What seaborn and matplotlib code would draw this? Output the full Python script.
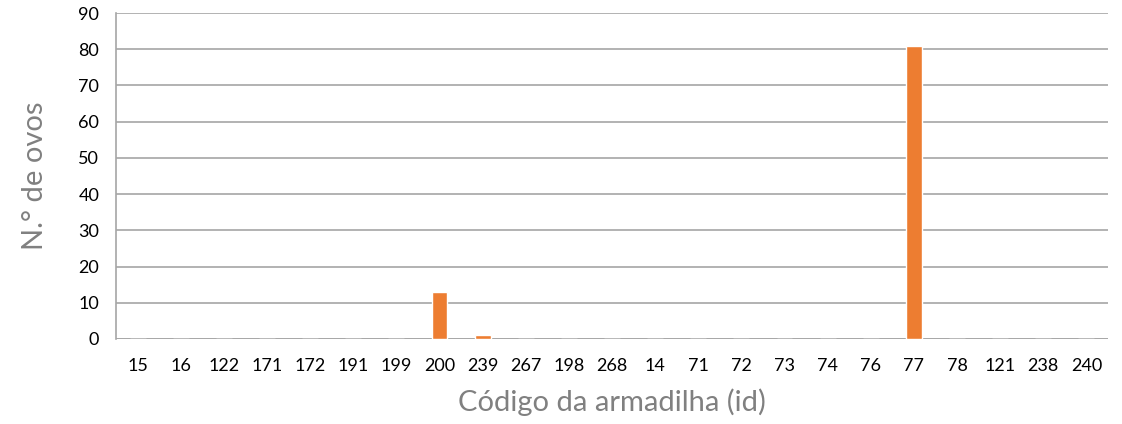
import matplotlib
matplotlib.use("Agg")
import matplotlib.pyplot as plt
import seaborn as sb
import pandas as pd

# Trap codes (x axis order as in the original chart)
codes = ['15', '16', '122', '171', '172', '191', '199', '200', '239', '267', '198', '268',
         '14', '71', '72', '73', '74', '76', '77', '78', '121', '238', '240']
# Number of eggs per trap
eggs = [0, 0, 0, 0, 0, 0, 0, 13, 1, 0, 0, 0,
        0, 0, 0, 0, 0, 0, 81, 0, 0, 0, 0]

y_ticks = list(range(0, 91, 10))

df = pd.DataFrame({'codigo': codes, 'ovos': eggs})

sb.set_style('white')
plt.rcParams['font.family'] = ['Lato', 'DejaVu Sans']

fig = plt.figure(figsize=(11.22, 4.24), dpi=100)
ax = fig.add_axes([0.1034, 0.2005, 0.8841, 0.7688])

sb.barplot(data=df, x='codigo', y='ovos', color='#ED7D31', width=0.37,
           saturation=1, ax=ax, zorder=3)

ax.set_ylim(0, 90)
ax.set_yticks(y_ticks)
ax.yaxis.grid(True, color='#a6a6a6', linewidth=1.2, zorder=0)
ax.set_axisbelow(True)

for s in ['top', 'right', 'bottom']:
    ax.spines[s].set_visible(False)
ax.spines['left'].set_color('#a6a6a6')
ax.spines['left'].set_linewidth(1.2)
ax.axhline(0, color='#a6a6a6', linewidth=1.2, zorder=2)

ax.tick_params(axis='y', length=8, color='#a6a6a6', width=1.2, labelsize=13,
               labelcolor='#000000', pad=4)
ax.tick_params(axis='x', length=0, labelsize=13, labelcolor='#000000', pad=14)

ax.set_xlabel('Código da armadilha (id)', fontsize=21, color='#808080',
              fontweight='normal', labelpad=10)
ax.set_ylabel('N.° de ovos', fontsize=21, color='#808080',
              fontweight='normal', labelpad=22)

fig.savefig('out.png', dpi=100)
